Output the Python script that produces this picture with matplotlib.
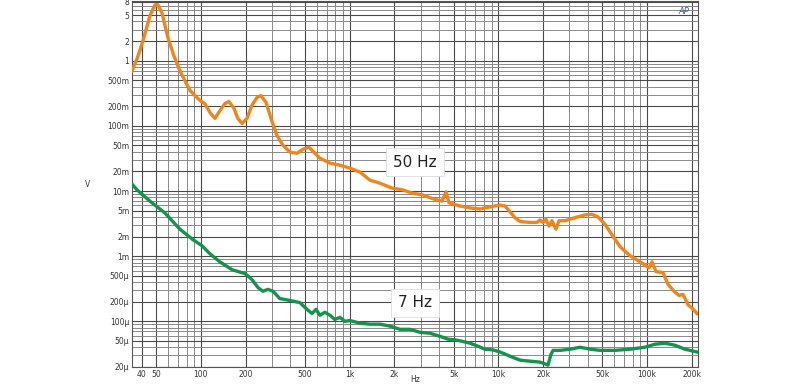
import numpy as np
import matplotlib
matplotlib.use('Agg')
import matplotlib.pyplot as plt
from matplotlib.ticker import FixedLocator, LogLocator, NullFormatter

# ---------------- data ----------------
f_50 = [34.4, 37.2, 40.7, 45.4, 49.1, 51.4, 54.7, 60.0, 65.8, 72.2, 84.3, 98.5, 106, 115, 124,
        134, 145, 154, 167, 177, 189, 204, 220, 238, 253, 274, 296, 324, 356, 397, 442, 485,
        533, 584, 631, 737, 861, 1005, 1173, 1370, 1600, 1924, 2280, 2623, 3112, 3632, 4175,
        4443, 4656, 5521, 6447, 7523, 8780, 10250, 11070, 11970, 12940, 13970, 16300, 18190,
        19050, 19950, 20890, 21870, 22900, 24380, 25560, 28050, 32740, 38210, 42590, 46720,
        52070, 58050, 65760, 76740, 89560, 96800, 103000, 107900, 114800, 128000, 138300,
        154100, 164000, 174300, 188500, 200400, 216600]
v_50 = [0.70, 1.07, 2.0, 4.9, 7.2, 7.2, 5.4, 2.25, 1.19, 0.70, 0.35, 0.245, 0.22, 0.16, 0.13,
        0.17, 0.22, 0.237, 0.185, 0.13, 0.109, 0.13, 0.206, 0.272, 0.292, 0.229, 0.13, 0.0716,
        0.0504, 0.0394, 0.038, 0.0438, 0.047, 0.038, 0.0319, 0.0268, 0.0249, 0.0225, 0.0195,
        0.0147, 0.0132, 0.0111, 0.0104, 0.0093, 0.0087, 0.0076, 0.0070, 0.0097, 0.0066, 0.0059,
        0.0055, 0.0053, 0.0057, 0.0061, 0.0059, 0.0048, 0.0039, 0.0034, 0.0033, 0.0033, 0.0036,
        0.0033, 0.0037, 0.0029, 0.0035, 0.0026, 0.0035, 0.0035, 0.0039, 0.0043, 0.0044, 0.0040,
        0.0031, 0.00213, 0.0014, 0.00102, 0.00082, 0.00073, 0.00066, 0.00082, 0.00058, 0.00056,
        0.00037, 0.00028, 0.00025, 0.00026, 0.00018, 0.00016, 0.000132]

f_7 = [34.4, 37.2, 45.4, 57.3, 72.2, 88.4, 101.6, 115, 134, 162, 198, 220, 242, 261, 282, 305,
       339, 397, 463, 516, 558, 594, 631, 682, 737, 795, 861, 930, 1005, 1173, 1370, 1600, 1866,
       2180, 2540, 2970, 3470, 4050, 4580, 5110, 5700, 6450, 7300, 8120, 9170, 10250, 11970,
       13970, 16300, 19050, 20890, 21560, 22610, 23330, 26030, 30380, 35460, 41390, 48310,
       60940, 76740, 96800, 113000, 132000, 154000, 180000, 216600]
v_7 = [0.0128, 0.0104, 0.0070, 0.0046, 0.0026, 0.00179, 0.00145, 0.00109, 0.00082, 0.00062,
       0.00054, 0.00044, 0.00033, 0.00029, 0.00031, 0.00029, 0.000224, 0.000209, 0.000194,
       0.000153, 0.000132, 0.000153, 0.000124, 0.000138, 0.000124, 0.000107, 0.000115, 0.0001,
       0.000103, 0.0000937, 0.0000905, 0.0000905, 0.0000845, 0.0000755, 0.0000755, 0.0000680,
       0.0000657, 0.0000590, 0.0000533, 0.0000520, 0.0000495, 0.0000462, 0.0000415, 0.0000374,
       0.0000365, 0.0000339, 0.0000292, 0.0000254, 0.0000245, 0.0000237, 0.0000220, 0.0000213,
       0.0000313, 0.0000359, 0.0000359, 0.0000374, 0.0000401, 0.0000374, 0.0000359, 0.0000359,
       0.0000374, 0.0000401, 0.0000446, 0.0000462, 0.0000430, 0.0000374, 0.0000339]

x_ticks = [40, 50, 100, 200, 500, 1e3, 2e3, 5e3, 1e4, 2e4, 5e4, 1e5, 2e5]
x_labels = ['40', '50', '100', '200', '500', '1k', '2k', '5k', '10k', '20k', '50k', '100k', '200k']
y_ticks = [8, 5, 2, 1, 0.5, 0.2, 0.1, 0.05, 0.02, 0.01, 5e-3, 2e-3, 1e-3,
           5e-4, 2e-4, 1e-4, 5e-5, 2e-5]
y_labels = ['8', '5', '2', '1', '500m', '200m', '100m', '50m', '20m', '10m', '5m', '2m', '1m',
            '500µ', '200µ', '100µ', '50µ', '20µ']

# ---------------- plot ----------------
fig = plt.figure(figsize=(8, 3.85), dpi=100)
ax = fig.add_axes([0.165, 0.047, 0.7075, 0.95])

ax.set_xscale('log')
ax.set_yscale('log')
ax.set_xlim(34.4, 220000)
ax.set_ylim(2e-5, 8.2)

ax.plot(f_50, v_50, color='#F0851C', lw=2.4, solid_joinstyle='round', zorder=3)
ax.plot(f_7, v_7, color='#14934A', lw=2.4, solid_joinstyle='round', zorder=3)

# grid
ax.xaxis.set_minor_locator(LogLocator(base=10, subs=np.arange(2, 10)))
ax.yaxis.set_minor_locator(LogLocator(base=10, subs=np.arange(2, 10)))
ax.xaxis.set_minor_formatter(NullFormatter())
ax.yaxis.set_minor_formatter(NullFormatter())
ax.grid(True, which='minor', color='#8a8a8a', lw=0.7)
ax.grid(True, which='major', color='#4a4a4a', lw=0.8)

ax.xaxis.set_major_locator(FixedLocator(x_ticks))
ax.set_xticklabels(x_labels)
ax.yaxis.set_major_locator(FixedLocator(y_ticks))
ax.set_yticklabels(y_labels)
ax.tick_params(which='both', length=0, labelsize=5.5, colors='#333333', pad=2)

for s in ax.spines.values():
    s.set_color('#555555')
    s.set_linewidth(0.8)

# axis titles
fig.text(415 / 800, 0.003, 'Hz', ha='center', va='bottom', fontsize=5.5, color='#333333')
ax.set_ylabel('V', fontsize=5.5, color='#333333', rotation=0, labelpad=14, va='center')

box = dict(boxstyle='square,pad=0.45', fc='white', ec='#dddddd', lw=0.6)
ax.text(0.5, 0.56, '50 Hz', transform=ax.transAxes, ha='center', va='center',
        fontsize=11, color='#222222', bbox=box, zorder=5)
ax.text(0.5, 0.175, '7 Hz', transform=ax.transAxes, ha='center', va='center',
        fontsize=11, color='#222222', bbox=box, zorder=5)

ax.text(0.985, 0.985, 'AP', transform=ax.transAxes, ha='right', va='top',
        fontsize=6, style='italic', color='#3a5fa8', zorder=5)

fig.savefig('out.png', dpi=100)
